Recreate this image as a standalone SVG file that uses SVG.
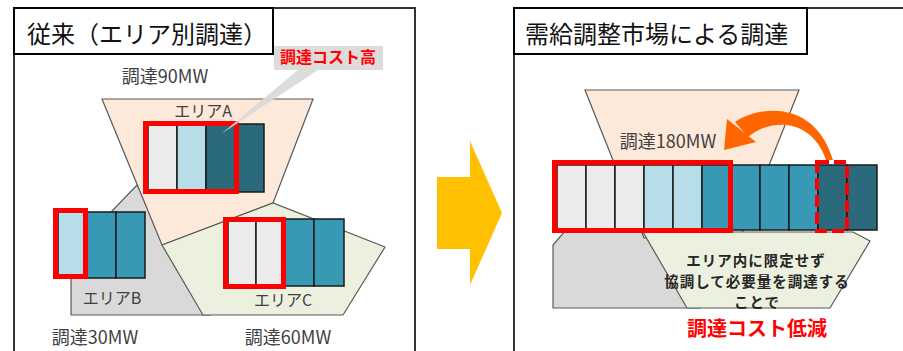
<svg xmlns="http://www.w3.org/2000/svg" width="903" height="351" viewBox="0 0 903 351">
<style>
text{font-family:"Noto Sans CJK JP","Noto Sans",sans-serif;}
.panel{fill:#fff;stroke:#333;stroke-width:2;}
.title{fill:#fff;stroke:#000;stroke-width:2;}
.ttl{font-size:24px;fill:#111;}
.lbl{font-size:18px;fill:#404040;text-anchor:middle;}
.area{font-size:16px;fill:#404040;text-anchor:middle;}
.shp{stroke:#595959;stroke-width:1.2;}
.peach{fill:#fde9d9;}
.gray{fill:#d9d9d9;}
.green{fill:#ebf1de;}
.blk{stroke:#1a1a1a;stroke-width:1.5;}
.lg{fill:#ebebeb;}
.lb{fill:#b7dde8;}
.tl{fill:#3899b4;}
.dt{fill:#2a6a7a;}
.red{fill:none;stroke:#ff0000;stroke-width:5;}
.note{font-size:14.5px;font-weight:bold;fill:#262626;text-anchor:middle;letter-spacing:1px;}
</style>

<g id="left-panel">
<rect class="panel" x="14" y="8" width="401" height="350"/>
<rect class="title" x="14" y="8" width="259" height="46"/>
<text class="ttl" x="27" y="43">従来（エリア別調達）</text>
</g>

<g id="area-b">
<polygon class="shp gray" points="71,315 71,260 112,260 112,211 137,185 210,315"/>
</g>
<g id="area-a">
<polygon class="shp peach" points="102,99 313,99 273,203 162,245"/>
</g>
<g id="area-c">
<polygon class="shp green" points="162,245 273,203 385,247 343,315 203,315"/>
</g>

<g id="blocks-a">
<rect class="blk lg" x="148" y="124" width="29" height="68"/>
<rect class="blk lb" x="177" y="124" width="29" height="68"/>
<rect class="blk dt" x="206" y="124" width="30" height="68"/>
<rect class="blk dt" x="236" y="124" width="28" height="68"/>
<rect class="red" x="145.5" y="123.5" width="91" height="68"/>
<text class="area" x="203" y="117">エリアA</text>
</g>

<g id="blocks-b">
<rect class="blk lb" x="58" y="212" width="26" height="66"/>
<rect class="blk tl" x="84" y="212" width="32" height="66"/>
<rect class="blk tl" x="116" y="212" width="29" height="66"/>
<rect class="red" x="55.5" y="210.5" width="30" height="66"/>
<text class="area" x="112" y="304">エリアB</text>
</g>

<g id="blocks-c">
<rect class="blk lg" x="228" y="219" width="28" height="67"/>
<rect class="blk lg" x="256" y="219" width="28" height="67"/>
<rect class="blk tl" x="284" y="219" width="30" height="67"/>
<rect class="blk tl" x="314" y="219" width="30" height="67"/>
<rect class="red" x="225.5" y="219.5" width="58" height="67"/>
<text class="area" x="283" y="306">エリアC</text>
</g>

<g id="callout">
<path d="M274,46 H383 V70 H318 L221,134 L298,70 H274 Z" fill="#d9d9d9" fill-opacity="0.92"/>
<text x="328" y="63" font-size="16" font-weight="bold" fill="#ff0000" text-anchor="middle">調達コスト高</text>
</g>

<g id="left-labels">
<text class="lbl" x="165" y="83">調達90MW</text>
<text class="lbl" x="95" y="344">調達30MW</text>
<text class="lbl" x="288" y="344">調達60MW</text>
</g>

<g id="connectors">
<polygon id="big-arrow" points="437,177 470,177 470,141 502,213 470,285 470,249 437,249" fill="#ffc000"/>
</g>

<g id="right-panel">
<rect class="panel" x="514" y="8" width="400" height="350"/>
<rect class="title" x="514" y="8" width="293" height="46"/>
<text class="ttl" x="525" y="43">需給調整市場による調達</text>
</g>

<g id="market-shapes">
<polygon class="shp gray" points="565,231 650,231 700,308 553,308 553,245"/>
<polygon class="shp peach" points="585,90 799,90 740,238 644,238"/>
<polygon class="shp green" points="643,232 853,232 870,241 830,308 687,308"/>
</g>

<g id="market-blocks">
<rect class="blk lg" x="557" y="165" width="29" height="65"/>
<rect class="blk lg" x="586" y="165" width="29" height="65"/>
<rect class="blk lg" x="615" y="165" width="29" height="65"/>
<rect class="blk lb" x="644" y="165" width="29" height="65"/>
<rect class="blk lb" x="673" y="165" width="29" height="65"/>
<rect class="blk tl" x="702" y="165" width="29" height="65"/>
<rect class="blk tl" x="731" y="165" width="29" height="65"/>
<rect class="blk tl" x="760" y="165" width="29" height="65"/>
<rect class="blk tl" x="789" y="165" width="29" height="65"/>
<rect class="blk dt" x="818" y="165" width="29" height="65"/>
<rect class="blk dt" x="847" y="165" width="30" height="65"/>
<rect class="red" x="554.5" y="162.5" width="176" height="68"/>
<rect x="817" y="162" width="30" height="69" fill="none" stroke="#ff0000" stroke-width="4" stroke-dasharray="12 5"/>
</g>

<g id="curved-arrow">
<path d="M735,122 C760,105 815,100 833,160 L826,160 C812,118 770,118 748,137 Z" fill="#ff6600"/>
<polygon points="724,150 727,119 756,142" fill="#ff6600"/>
</g>

<g id="market-labels">
<text class="lbl" x="668" y="148">調達180MW</text>
<text class="note" x="756" y="266">エリア内に限定せず</text>
<text class="note" x="757" y="287">協調して必要量を調達する</text>
<text class="note" x="757" y="308">ことで</text>
<text x="757" y="336" font-size="20" font-weight="bold" fill="#ff0000" text-anchor="middle">調達コスト低減</text>
</g>
</svg>
